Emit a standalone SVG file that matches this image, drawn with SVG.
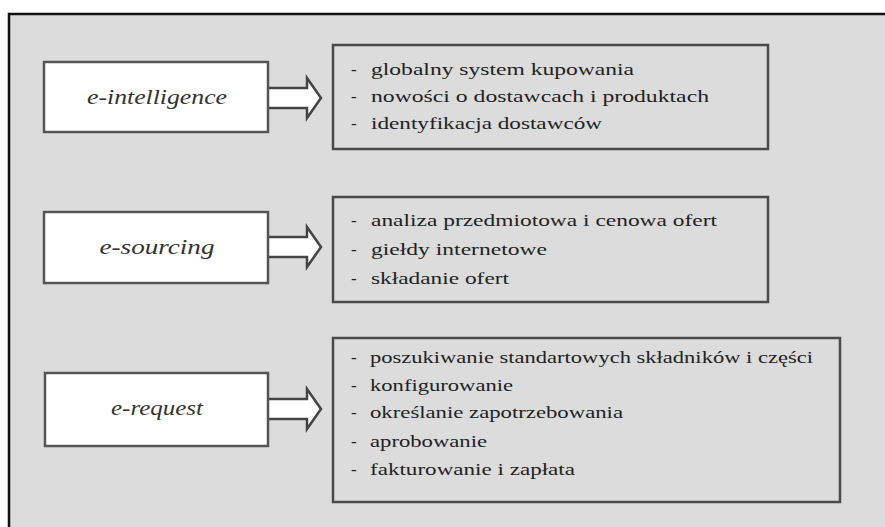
<svg xmlns="http://www.w3.org/2000/svg" width="885" height="527" viewBox="0 0 885 527">
<style>
.lbl{font-family:"Liberation Serif","Times New Roman",serif;font-style:italic;font-size:22px;fill:#333;text-anchor:middle}
.it{font-family:"Liberation Serif","Times New Roman",serif;font-size:17px;fill:#222}
.lbox{fill:#fff;stroke:#555;stroke-width:2.5}
.rbox{fill:#dcdcdc;stroke:#4a4a4a;stroke-width:2.5}
.arr{fill:#fff;stroke:#444;stroke-width:2.5;stroke-linejoin:miter}
</style>
<rect x="0" y="0" width="885" height="527" fill="#fff"/>
<rect x="9" y="14" width="900" height="540" fill="#dcdcdc" stroke="#111" stroke-width="2.5"/>

<g id="connectors">
<path class="arr" d="M268,88 H307 V78 L321,98 L307,118 V108 H268"/>
<path class="arr" d="M268,237 H307 V227 L321,247 L307,267 V257 H268"/>
<path class="arr" d="M268,399 H307 V389 L321,409 L307,429 V419 H268"/>
</g>

<g id="e-intelligence">
<rect class="lbox" x="44" y="62" width="224" height="70"/>
<text class="lbl" x="157" y="104" textLength="140" lengthAdjust="spacingAndGlyphs">e-intelligence</text>
</g>
<g id="e-intelligence-list">
<rect class="rbox" x="333" y="45" width="435" height="104"/>
<text class="it" x="351" y="75">-</text><text class="it" x="371" y="75" textLength="263" lengthAdjust="spacingAndGlyphs">globalny system kupowania</text>
<text class="it" x="351" y="102">-</text><text class="it" x="371" y="102" textLength="338" lengthAdjust="spacingAndGlyphs">nowości o dostawcach i produktach</text>
<text class="it" x="351" y="129">-</text><text class="it" x="371" y="129" textLength="231" lengthAdjust="spacingAndGlyphs">identyfikacja dostawców</text>
</g>

<g id="e-sourcing">
<rect class="lbox" x="44" y="212" width="224" height="71"/>
<text class="lbl" x="157" y="254" textLength="115" lengthAdjust="spacingAndGlyphs">e-sourcing</text>
</g>
<g id="e-sourcing-list">
<rect class="rbox" x="333" y="197" width="435" height="105"/>
<text class="it" x="351" y="226">-</text><text class="it" x="371" y="226" textLength="346" lengthAdjust="spacingAndGlyphs">analiza przedmiotowa i cenowa ofert</text>
<text class="it" x="351" y="255">-</text><text class="it" x="371" y="255" textLength="176" lengthAdjust="spacingAndGlyphs">giełdy internetowe</text>
<text class="it" x="351" y="284">-</text><text class="it" x="371" y="284" textLength="138" lengthAdjust="spacingAndGlyphs">składanie ofert</text>
</g>

<g id="e-request">
<rect class="lbox" x="45" y="373" width="223" height="73"/>
<text class="lbl" x="157" y="415" textLength="92" lengthAdjust="spacingAndGlyphs">e-request</text>
</g>
<g id="e-request-list">
<rect class="rbox" x="333" y="338" width="507" height="164"/>
<text class="it" x="351" y="363">-</text><text class="it" x="370" y="363" textLength="443" lengthAdjust="spacingAndGlyphs">poszukiwanie standartowych składników i części</text>
<text class="it" x="351" y="391">-</text><text class="it" x="370" y="391" textLength="143" lengthAdjust="spacingAndGlyphs">konfigurowanie</text>
<text class="it" x="351" y="418">-</text><text class="it" x="370" y="418" textLength="253" lengthAdjust="spacingAndGlyphs">określanie zapotrzebowania</text>
<text class="it" x="351" y="447">-</text><text class="it" x="370" y="447" textLength="117" lengthAdjust="spacingAndGlyphs">aprobowanie</text>
<text class="it" x="351" y="475">-</text><text class="it" x="370" y="475" textLength="205" lengthAdjust="spacingAndGlyphs">fakturowanie i zapłata</text>
</g>
</svg>
